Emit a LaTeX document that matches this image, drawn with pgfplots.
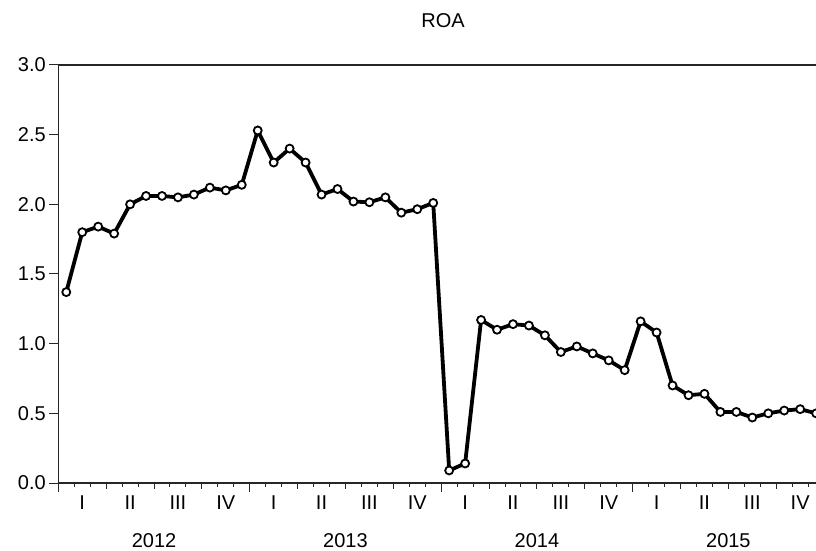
\documentclass[border=0pt]{standalone}
\usepackage{pgfplots}
\pgfplotsset{compat=1.18}
\usepackage{fontspec}
\setmainfont{Liberation Sans}
\begin{document}
\begin{tikzpicture}
\path[use as bounding box] (-58.3pt,-68pt) rectangle (757.7pt,483pt);
\begin{axis}[
  at={(0,0)}, anchor=south west,
  scale only axis, width=765.8pt, height=418pt,
  xmin=-0.5, xmax=47.5, ymin=0, ymax=3,
  clip=false,
  axis lines=left,
  axis line style={-, black!85, line width=1.1pt},
  tick align=outside,
  xtick={-0.5,11.5,23.5,35.5,47.5},
  xticklabels={},
  major tick length=9pt,
  minor xtick={0.5,1.5,2.5,3.5,4.5,5.5,6.5,7.5,8.5,9.5,10.5,12.5,13.5,14.5,15.5,16.5,17.5,18.5,19.5,20.5,21.5,22.5,24.5,25.5,26.5,27.5,28.5,29.5,30.5,31.5,32.5,33.5,34.5,36.5,37.5,38.5,39.5,40.5,41.5,42.5,43.5,44.5,45.5,46.5},
  minor tick length=3.5pt,
  extra x ticks={2.5,5.5,8.5,14.5,17.5,20.5,26.5,29.5,32.5,38.5,41.5,44.5},
  extra x tick labels={},
  extra x tick style={major tick length=5.5pt},
  ytick={0,0.5,1,1.5,2,2.5,3},
  every tick/.style={black!85, line width=1pt},
  yticklabel style={/pgf/number format/.cd, fixed, fixed zerofill, precision=1, assume math mode=true},
  tick label style={font=\fontsize{20}{22}\selectfont},
]
\addplot[black, line width=3.8pt, mark=*, mark size=4pt,
  mark options={fill=white, draw=black, line width=1.8pt}]
  coordinates {
  (0,1.37) (1,1.80) (2,1.84) (3,1.79) (4,2.00) (5,2.06) (6,2.06) (7,2.05)
  (8,2.07) (9,2.12) (10,2.10) (11,2.14) (12,2.53) (13,2.30) (14,2.40) (15,2.30)
  (16,2.07) (17,2.11) (18,2.02) (19,2.015) (20,2.05) (21,1.94) (22,1.965) (23,2.01)
  (24,0.09) (25,0.14) (26,1.17) (27,1.10) (28,1.14) (29,1.13) (30,1.06) (31,0.94)
  (32,0.98) (33,0.93) (34,0.88) (35,0.81) (36,1.16) (37,1.08) (38,0.70) (39,0.63)
  (40,0.64) (41,0.51) (42,0.51) (43,0.47) (44,0.50) (45,0.52) (46,0.53) (47,0.50)
  };
\end{axis}
\draw[black!85, line width=1.2pt] (0,418pt) -- (765.8pt,418pt);
\node[font=\fontsize{20}{22}\selectfont] at (384.7pt,462pt) {ROA};
\foreach \q [count=\n from 0] in {I,II,III,IV,I,II,III,IV,I,II,III,IV,I,II,III,IV}
  \node[font=\fontsize{20}{22}\selectfont] at ({(3*\n+1.5)*15.954pt},-20pt) {\q};
\foreach \y [count=\n from 0] in {2012,2013,2014,2015}
  \node[font=\fontsize{20}{22}\selectfont, anchor=base, inner sep=0pt] at ({(12*\n+6)*15.954pt},-64pt) {\y};
\end{tikzpicture}
\end{document}
